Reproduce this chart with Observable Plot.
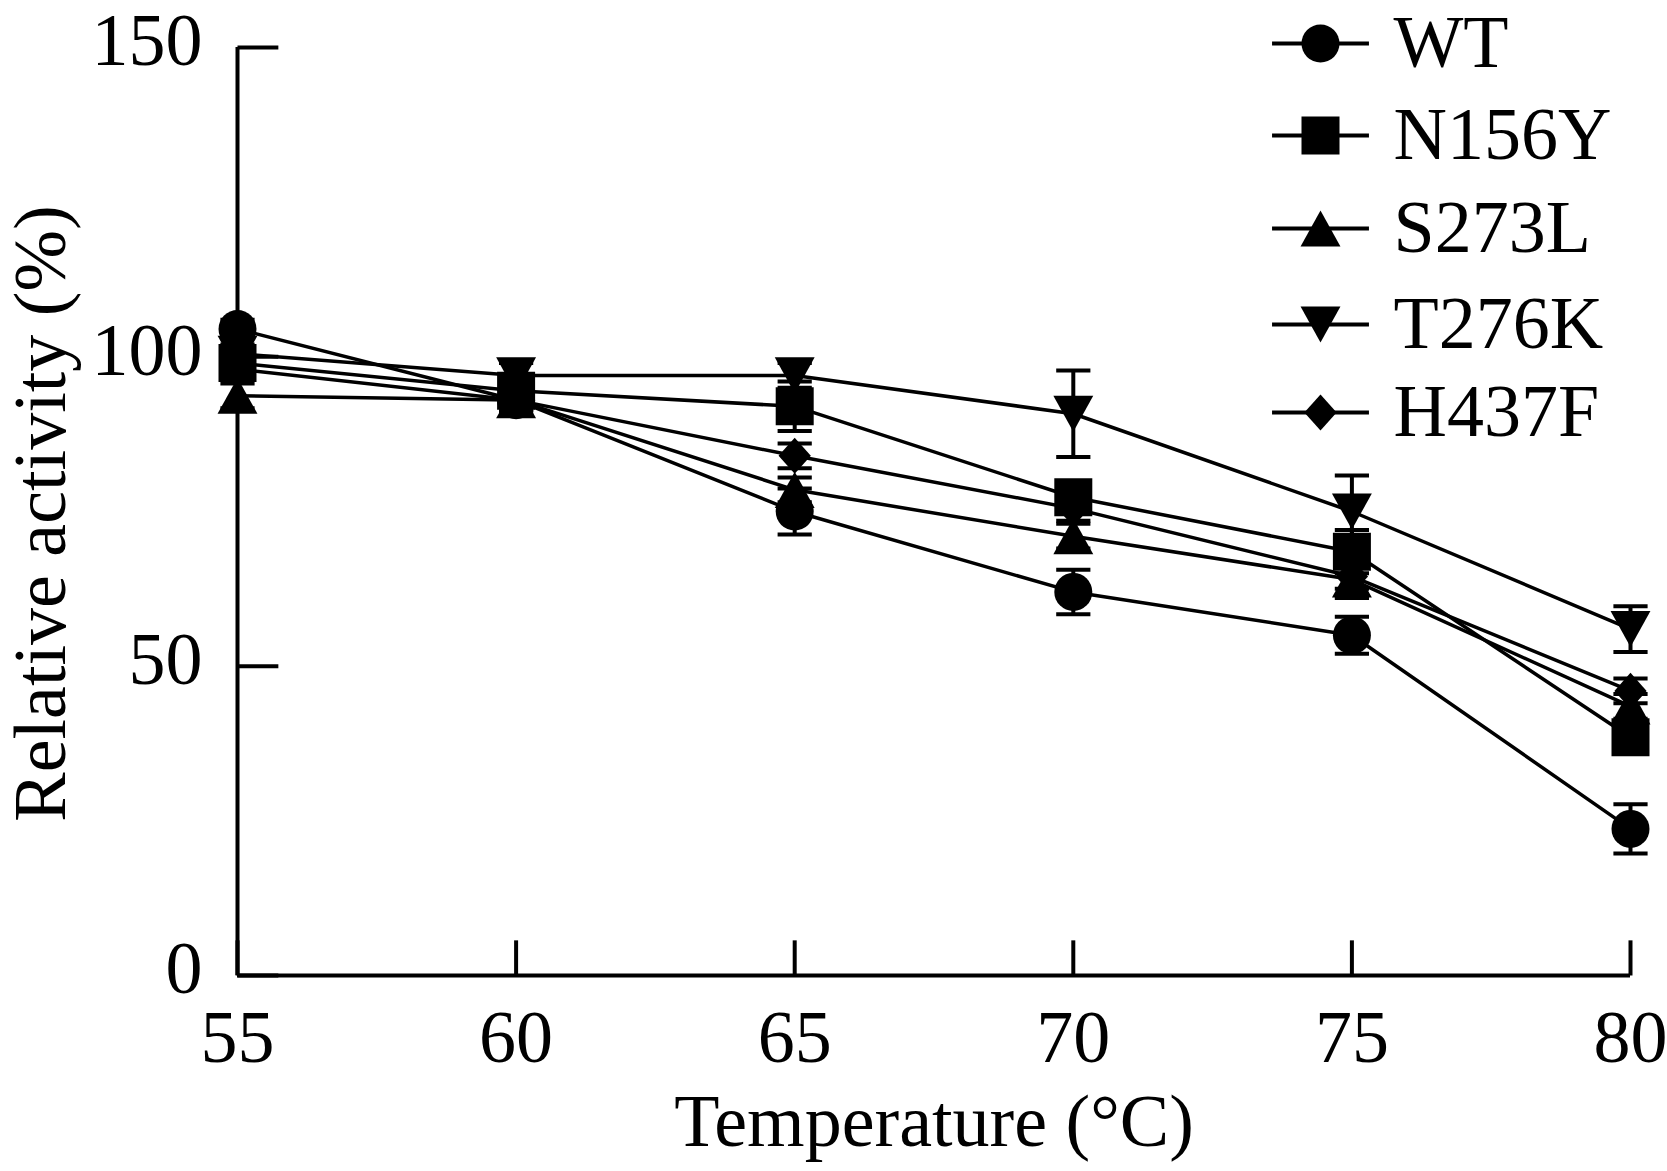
<!DOCTYPE html>
<html><head><meta charset="utf-8">
<script src="https://cdn.jsdelivr.net/npm/d3@7"></script>
<script src="https://cdn.jsdelivr.net/npm/@observablehq/plot@0.6"></script>
<style>
html,body{margin:0;padding:0;background:#fff;}
#chart svg{display:block;}
</style>
</head><body>
<div id="chart"></div>
<script>
const temperatures = [55, 60, 65, 70, 75, 80];
const seriesNames = ["WT", "N156Y", "S273L", "T276K", "H437F"];
const wtValues    = [104.5, 93, 75, 62, 55, 23.7];
const n156yValues = [99, 94.5, 92, 77.3, 68.5, 38.5];
const s273lValues = [93.7, 93, 78.5, 71, 64, 43.5];
const t276kValues = [100.5, 97, 97, 90.8, 75, 56];
const h437fValues = [98, 93, 84, 75.5, 64.5, 46];
const wtErrors    = [1.5, 1.5, 3.7, 3.6, 3, 4];
const n156yErrors = [2, 2, 4, 2.5, 3.5, 2];
const s273lErrors = [2, 2, 2, 2, 3, 2];
const t276kErrors = [1.5, 2, 2, 7, 5.8, 3.7];
const h437fErrors = [1.5, 1.5, 2, 2, 2, 2];
const xTicks = [55, 60, 65, 70, 75, 80];
const yTicks = [0, 50, 100, 150];
const xLabel = "Temperature (°C)";
const yLabel = "Relative activity (%)";

const allValues = [wtValues, n156yValues, s273lValues, t276kValues, h437fValues];
const allErrors = [wtErrors, n156yErrors, s273lErrors, t276kErrors, h437fErrors];
const rows = seriesNames.flatMap((s, i) => temperatures.map((t, j) => ({
  series: s, temp: t, value: allValues[i][j], err: allErrors[i][j]
})));

// custom symbols (size = PI r^2)
const R = s => Math.sqrt(s / Math.PI);
const circleSym = {draw(c, s){ const r = R(s); c.moveTo(r, 0); c.arc(0, 0, r, 0, 2*Math.PI); c.closePath(); }};
const squareSym = {draw(c, s){ const r = R(s); c.rect(-r, -r, 2*r, 2*r); }};
const triUpSym = {draw(c, s){ const r = R(s); c.moveTo(0, -0.95*r); c.lineTo(1.05*r, 0.95*r); c.lineTo(-1.05*r, 0.95*r); c.closePath(); }};
const triDownSym = {draw(c, s){ const r = R(s); c.moveTo(0, 0.95*r); c.lineTo(1.05*r, -0.95*r); c.lineTo(-1.05*r, -0.95*r); c.closePath(); }};
const diamondSym = {draw(c, s){ const r = R(s); c.moveTo(0, -0.95*r); c.lineTo(0.85*r, 0); c.lineTo(0, 0.95*r); c.lineTo(-0.85*r, 0); c.closePath(); }};
const capSym = {draw(c, s){ const r = R(s); c.moveTo(-0.9*r, 0); c.lineTo(0.9*r, 0); }};
const legendLineSym = {draw(c, s){ const r = R(s); c.moveTo(-2.55*r, 0); c.lineTo(2.55*r, 0); }};
const tickRightSym = {draw(c, s){ const r = R(s); c.moveTo(0, 0); c.lineTo(2.15*r, 0); }};
const tickUpSym = {draw(c, s){ const r = R(s); c.moveTo(0, 0); c.lineTo(0, -1.85*r); }};
const symbols = [circleSym, squareSym, triUpSym, triDownSym, diamondSym];

const legendRowY = [43, 135, 228, 324, 412];
const frameTop = 47, frameRight = 1630;

const legendMarks = seriesNames.flatMap((name, i) => [
  Plot.dot([name], {frameAnchor: "top-right", dx: 1320 - frameRight, dy: legendRowY[i] - frameTop,
    symbol: legendLineSym, r: 19, stroke: "black", strokeWidth: 4, fill: "none"}),
  Plot.dot([name], {frameAnchor: "top-right", dx: 1320 - frameRight, dy: legendRowY[i] - frameTop,
    symbol: symbols[i], r: 19, fill: "black", stroke: "none"}),
  Plot.text([name], {frameAnchor: "top-right", dx: 1393 - frameRight, dy: legendRowY[i] - frameTop,
    text: d => d, textAnchor: "start", lineAnchor: "middle", fill: "black"})
]);

const chart = Plot.plot({
  width: 1667,
  height: 1171,
  marginLeft: 237,
  marginRight: 37,
  marginTop: 47,
  marginBottom: 196,
  style: {fontFamily: "'Liberation Serif', 'Times New Roman', serif", fontSize: "74px", background: "#fff", color: "black", overflow: "visible"},
  x: {domain: [55, 80], label: null},
  y: {domain: [0, 150], label: null},
  marks: [
    Plot.axisX({ticks: xTicks, tickSize: 0, tickPadding: 34, label: null, fill: "black"}),
    Plot.axisY({ticks: yTicks, tickSize: 0, tickPadding: 35, label: null, dy: -6, fill: "black"}),
    Plot.ruleX([xTicks[0]], {stroke: "black", strokeWidth: 4}),
    Plot.ruleY([yTicks[0]], {stroke: "black", strokeWidth: 4}),
    Plot.dot(yTicks, {x: () => xTicks[0], y: d => d, symbol: tickRightSym, r: 19, stroke: "black", strokeWidth: 4, fill: "none"}),
    Plot.dot(xTicks, {x: d => d, y: () => yTicks[0], symbol: tickUpSym, r: 19, stroke: "black", strokeWidth: 4, fill: "none"}),
    Plot.text([xLabel], {frameAnchor: "bottom", dy: 147, text: d => d, textAnchor: "middle", lineAnchor: "middle", fill: "black"}),
    Plot.text([yLabel], {frameAnchor: "left", dx: 41 - 237, dy: 2, rotate: -90, text: d => d, textAnchor: "middle", lineAnchor: "middle", fill: "black"}),
    Plot.line(rows, {x: "temp", y: "value", z: "series", stroke: "black", strokeWidth: 3.5}),
    Plot.ruleX(rows, {x: "temp", y1: d => d.value - d.err, y2: d => d.value + d.err, stroke: "black", strokeWidth: 4}),
    Plot.dot(rows, {x: "temp", y: d => d.value + d.err, symbol: capSym, r: 19, stroke: "black", strokeWidth: 4, fill: "none"}),
    Plot.dot(rows, {x: "temp", y: d => d.value - d.err, symbol: capSym, r: 19, stroke: "black", strokeWidth: 4, fill: "none"}),
    ...seriesNames.map((name, i) => Plot.dot(rows.filter(d => d.series === name),
      {x: "temp", y: "value", symbol: symbols[i], r: 19, fill: "black", stroke: "none"})),
    ...legendMarks
  ]
});
document.getElementById("chart").appendChild(chart);
</script>
</body></html>
